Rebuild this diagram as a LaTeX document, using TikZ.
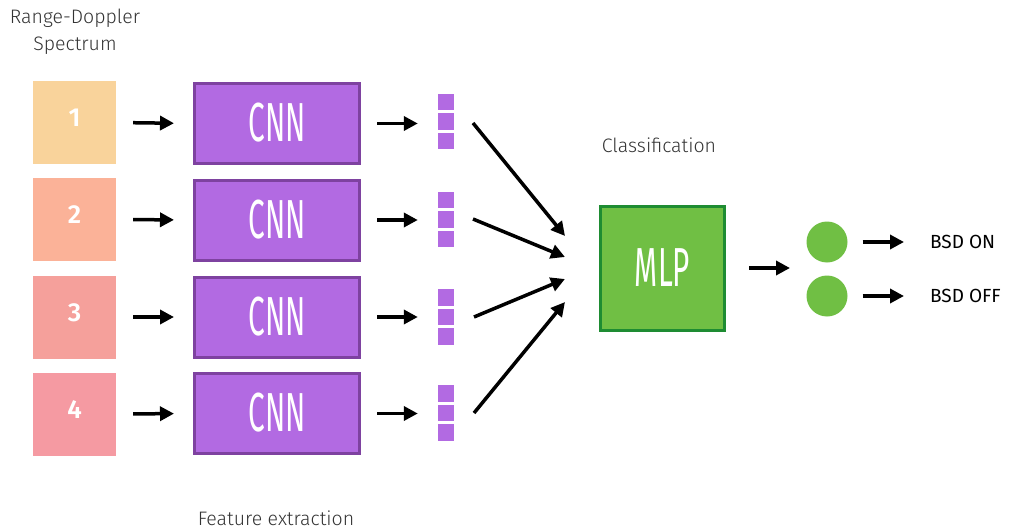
\documentclass[tikz,border=0pt]{standalone}
\usepackage{fontspec}
\setmainfont{Fira Sans}
\newfontfamily\lightf{Fira Sans Light}
\newfontfamily\boldf{Fira Sans SemiBold}
\usetikzlibrary{arrows.meta}
\definecolor{sqA}{HTML}{F9D39B}
\definecolor{sqB}{HTML}{FBB298}
\definecolor{sqC}{HTML}{F5A09B}
\definecolor{sqD}{HTML}{F59AA2}
\definecolor{purp}{HTML}{B26AE2}
\definecolor{purpdk}{HTML}{7E42A0}
\definecolor{grn}{HTML}{70BF44}
\definecolor{grndk}{HTML}{1E8C32}
\definecolor{txtgray}{HTML}{333333}
\tikzset{
  inbox/.style={draw=none, minimum width=83pt, minimum height=83pt, inner sep=0pt, text=white, font=\boldf\fontsize{26}{26}\selectfont},
  cnnbox/.style={draw=purpdk, line width=3pt, fill=purp, minimum width=165pt, minimum height=80pt, inner sep=0pt, text=white, font=\fontsize{55}{55}\selectfont},
  feat/.style={fill=purp, draw=none, minimum width=16pt, minimum height=16.5pt, inner sep=0pt},
  arr/.style={line width=3.5pt, -{Triangle[length=14pt,width=14pt]}},
  lbl/.style={text=txtgray, font=\lightf\fontsize{19.5}{27.5}\selectfont, align=center, inner sep=0pt},
  outlbl/.style={text=black, font=\fontsize{19}{20}\selectfont, inner sep=0pt, anchor=west},
  neuron/.style={circle, fill=grn, draw=none, minimum size=41pt, inner sep=0pt}
}
\newcommand{\condtxt}[1]{\raisebox{2pt}{\scalebox{0.54}[1]{#1}}}
\newcommand{\upnum}[1]{\raisebox{9pt}{#1}}
\begin{document}
\begin{tikzpicture}[x=1pt,y=-1pt]
\useasboundingbox (0,0) rectangle (1009,532);
% label
\node[lbl] (rd) at (75,32) {Range-Doppler\\Spectrum};
\node[lbl] (cls) at (659,145) {Classification};
\node[lbl] (fe) at (276,518) {Feature extraction};
% inputs
\node[inbox, fill=sqA] (s1) at (74.5,122.5) {\upnum{1}};
\node[inbox, fill=sqB] (s2) at (74.5,219.5) {\upnum{2}};
\node[inbox, fill=sqC] (s3) at (74.5,317) {\upnum{3}};
\node[inbox, fill=sqD] (s4) at (74.5,414) {\upnum{4}};
% CNNs
\node[cnnbox] (c1) at (277,123.5) {\condtxt{CNN}};
\node[cnnbox] (c2) at (277,220) {\condtxt{CNN}};
\node[cnnbox] (c3) at (277,317) {\condtxt{CNN}};
\node[cnnbox] (c4) at (277,413.5) {\condtxt{CNN}};
% features
\foreach \i/\y in {1/121.5,2/219.5,3/317,4/413}{
  \node[feat] (f\i b) at (446,\y) {};
  \node[feat] (f\i a) at (446,\y-19.5) {};
  \node[feat] (f\i c) at (446,\y+19.5) {};
}
% arrows
\foreach \i in {1,2,3,4}{
  \draw[arr, shorten <=17pt, shorten >=19pt] (s\i.east) -- (c\i.west);
  \draw[arr, shorten <=16pt, shorten >=20pt] (c\i.east) -- (c\i.east -| f\i b.west);
}
% MLP
\node[draw=grndk, line width=3pt, fill=grn, minimum size=124pt, inner sep=0pt, text=white, font=\fontsize{55}{55}\selectfont] (mlp) at (662.5,268.5) {\condtxt{MLP}};
\coordinate (m1) at (565,236);
\coordinate (m2) at (565,257);
\coordinate (m3) at (565,279);
\coordinate (m4) at (565,302);
\coordinate (t1) at (473,123);
\coordinate (t2) at (473,219);
\coordinate (t3) at (474,317);
\coordinate (t4) at (474,413);
\foreach \i in {1,2,3,4}{
  \draw[arr] (t\i) -- (m\i);
}
% outputs
\node[neuron] (n1) at (827,242) {};
\node[neuron] (n2) at (827,296) {};
\coordinate (mid) at (790,268);
\draw[arr, shorten <=23pt] (mlp.east |- mid) -- (mid);
\node[outlbl] (on) at (930,242) {BSD ON};
\node[outlbl] (off) at (930,296) {BSD OFF};
\draw[arr, shorten <=15pt, shorten >=26pt] (n1.east) -- (on.west);
\draw[arr, shorten <=15pt, shorten >=26pt] (n2.east) -- (off.west);
\end{tikzpicture}
\end{document}
